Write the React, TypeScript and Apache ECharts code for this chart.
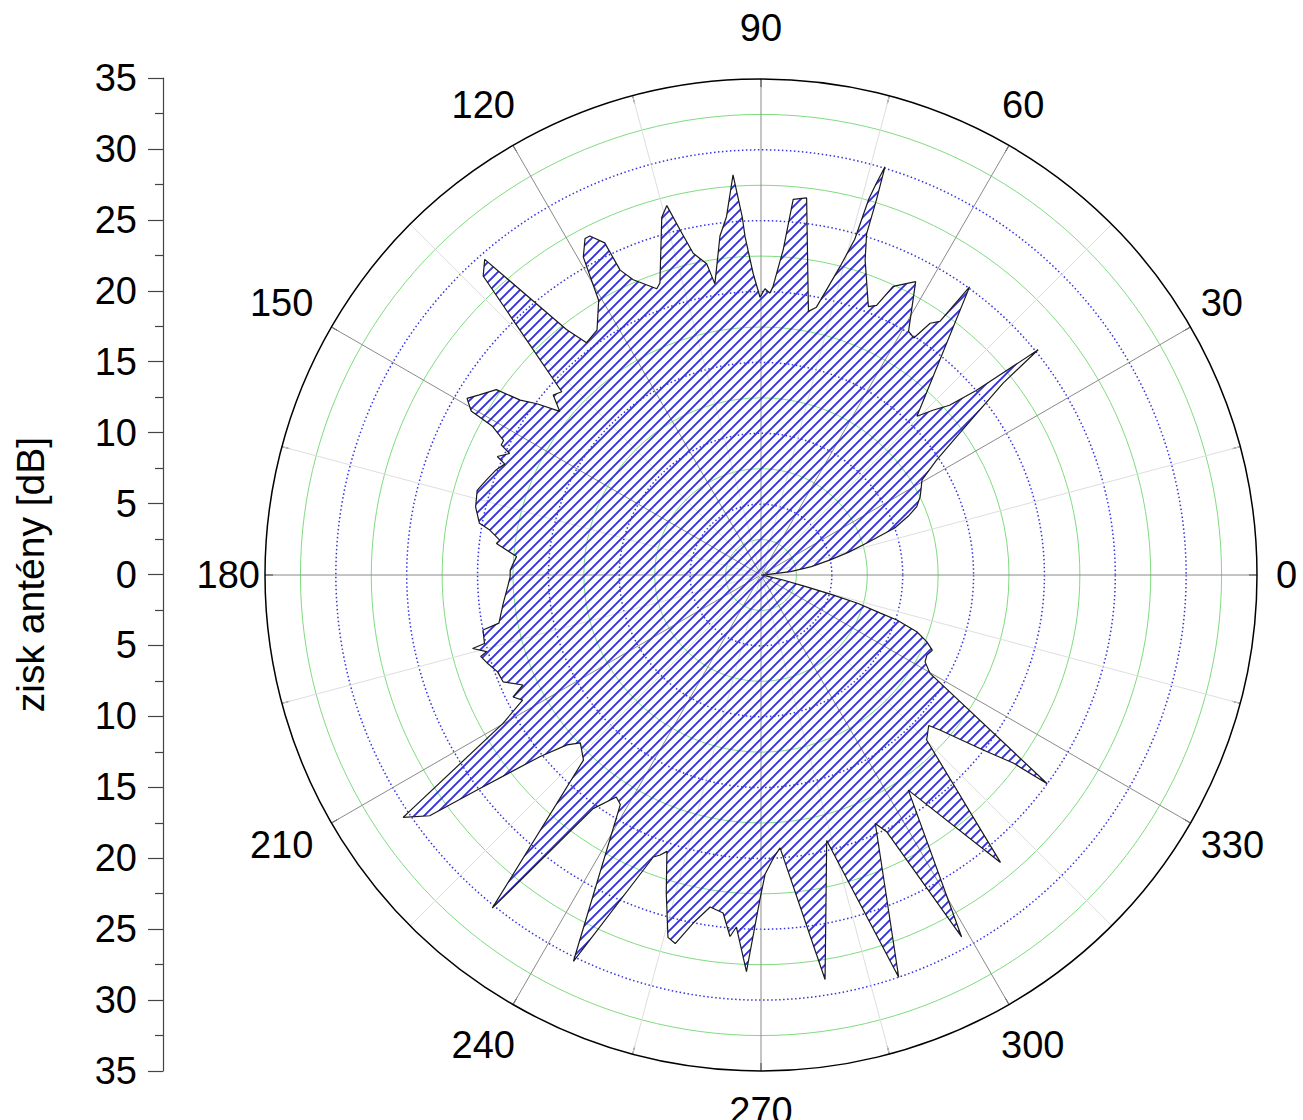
import React, { useEffect, useRef } from "react";
import * as echarts from "echarts";

// Measured antenna pattern: angle [deg] and gain [dB]
const angleDeg = [
  0, 4.0, 6.5, 9.5, 12.3, 14.6, 16.8, 19.4, 21.8, 23.7, 26.1, 28.1, 30.6, 33.2, 35.5, 38.4, 39.1,
  40.6, 42.0, 43.8, 45.5, 54.1, 54.8, 56.1, 57.2, 58.8, 62.2, 65.4, 66.8, 68.2, 71.7, 72.8, 72.9,
  73.1, 73.6, 74.0, 74.4, 75.6, 78.3, 79.8, 83.1, 85.1, 86.1, 87.6, 88.2, 89.2, 90.2, 91.5, 92.7,
  93.0, 94.0, 95.5, 96.9, 99.0, 99.9, 101.9, 103.2, 104.3, 105.5, 109.1, 110.0, 113.4, 114.8, 115.2,
  116.8, 117.6, 119.2, 120.6, 123.8, 126.9, 128.4, 131.2, 132.9, 137.4, 139.1, 140.9, 142.6, 144.0,
  145.0, 147.4, 149.0, 150.5, 151.0, 152.4, 153.4, 154.2, 155.8, 156.6, 158.3, 160.9, 163.4, 166.6,
  169.6, 170.6, 172.4, 173.2, 175.7, 177.3, 178.9, 180.4, 182.7, 186.3, 190.4, 191.2, 193.9, 194.3,
  195.6, 196.2, 197.8, 200.2, 202.5, 204.8, 206.2, 207.7, 209.9, 214.1, 216.0, 217.1, 219.4, 221.2,
  222.9, 226.2, 231.1, 234.3, 236.9, 238.5, 244.1, 249.1, 250.2, 251.2, 253.4, 255.6, 256.9, 259.0,
  261.3, 263.6, 265.1, 266.0, 267.9, 269.8, 270.8, 272.5, 274.0, 279.0, 283.9, 288.9, 294.7, 296.1,
  299.0, 304.4, 309.8, 315.1, 318.1, 319.1, 321.8, 323.3, 323.9, 329.8, 332.1, 334.2, 336.3, 338.1,
  340.0, 341.7, 342.3, 343.7, 344.5, 345.4, 347.2, 352.0, 360
];
const gainDb = [
  0, 0.4, 2.1, 3.6, 5.0, 6.4, 7.8, 10.0, 11.2, 12.0, 12.5, 12.8, 13.2, 14.8, 17.2, 21.8, 25.2,
  20.0, 17.9, 16.8, 15.7, 25.1, 21.9, 21.4, 19.9, 20.1, 23.4, 22.4, 20.7, 20.4, 23.4, 25.2, 27.7,
  30.1, 28.8, 27.6, 24.6, 22.5, 19.3, 18.9, 26.8, 26.6, 23.0, 20.4, 19.9, 20.2, 19.6, 21.3, 23.9,
  25.3, 28.3, 25.4, 24.1, 20.8, 22.3, 23.2, 25.0, 26.9, 26.2, 21.8, 21.5, 22.7, 23.7, 25.9,
  26.8, 26.8, 25.7, 22.5, 20.8, 20.5, 22.1, 29.6, 28.8, 19.1, 19.4, 18.3, 19.9, 21.0,
  22.8, 23.6, 24.2, 23.5, 21.7, 20.5, 20.5, 19.7, 20.4, 19.7, 20.1, 20.5, 20.9, 20.7,
  20.2, 19.4, 18.6, 18.8, 17.3, 17.5, 17.7, 17.7, 17.9, 18.3, 18.8, 20.0, 20.1, 21.0,
  20.1, 20.6, 20.3, 19.8, 19.7, 18.5, 19.5, 19.0, 21.0, 30.5, 28.9, 25.2, 20.2, 18.2,
  17.4, 18.1, 30.2, 20.3, 18.7, 19.0, 30.3, 21.3, 21.0, 20.6, 23.4, 26.4, 26.7, 25.0,
  23.7, 24.0, 25.6, 24.9, 28.0, 22.9, 21.1, 20.0, 19.3, 28.9, 19.3, 30.0, 19.3, 20.2,
  29.2, 18.4, 26.4, 16.5, 15.9, 16.7, 20.0, 22.2, 25.0, 13.8, 13.1, 13.0, 13.2, 12.6,
  11.7, 10.1, 8.8, 7.1, 5.3, 3.4, 1.6, 0.2, 0
];

const radiusMax = 35;
const radiusStep = 5;
const angleStep = 30;
const gainAxisTitle = "zisk antény [dB]";

const FONT = "'Liberation Sans', Arial, Helvetica, sans-serif";

// per-label padding [top, right, bottom, left] so each angle label sits centred on a ring
const angleLabelPadding: Record<number, number[]> = {
  0: [0, 0, 0, 35],
  30: [0, 0, 26, 24],
  60: [0, 0, 70, 1],
  90: [0, 0, 96, 0],
  120: [0, 6, 70, 0],
  150: [0, 32, 26, 0],
  180: [0, 21, 0, 0],
  210: [22, 32, 0, 0],
  240: [70, 6, 0, 0],
  270: [74, 0, 0, 0],
  300: [70, 0, 0, 0],
  330: [22, 0, 0, 24],
};

export default function App() {
  const ref = useRef<HTMLDivElement>(null);

  useEffect(() => {
    if (!ref.current) return;
    const chart = echarts.init(ref.current, null, { renderer: "svg" });

    // diagonal hatch tile
    const cv = document.createElement("canvas");
    cv.width = 10;
    cv.height = 10;
    const ctx = cv.getContext("2d")!;
    ctx.strokeStyle = "#3030dc";
    ctx.lineWidth = 1.9;
    ctx.lineCap = "square";
    ctx.beginPath();
    ctx.moveTo(-1, 11);
    ctx.lineTo(11, -1);
    ctx.moveTo(-1, 1);
    ctx.lineTo(1, -1);
    ctx.moveTo(9, 11);
    ctx.lineTo(11, 9);
    ctx.stroke();
    const hatch: any = {
      image: cv.toDataURL(),
      repeat: "repeat",
      imageWidth: 10,
      imageHeight: 10,
    };

    const data = angleDeg.map((a, i) => [gainDb[i], a]);

    const blue = "#3434e4";
    const splitColors = ["rgba(0,0,0,0)"];
    for (let v = radiusStep; v < radiusMax; v += radiusStep) splitColors.push(blue);
    splitColors.push("rgba(0,0,0,0)");

    const rich: Record<string, any> = {};
    Object.keys(angleLabelPadding).forEach((k) => {
      rich["a" + k] = {
        fontSize: 38,
        lineHeight: 38,
        color: "#000",
        fontFamily: FONT,
        padding: angleLabelPadding[Number(k)],
      };
    });

    chart.setOption({
      animation: false,
      backgroundColor: "#ffffff",
      polar: { center: [761, 575], radius: 496 },
      angleAxis: {
        type: "value",
        min: 0,
        max: 360,
        interval: angleStep,
        startAngle: 0,
        clockwise: false,
        axisLine: { show: true, lineStyle: { color: "#000", width: 1.5 } },
        axisTick: { show: true, inside: true, length: 8, lineStyle: { color: "#000", width: 1 } },
        minorTick: { show: true, splitNumber: 2, length: 8, lineStyle: { color: "#000", width: 1 } },
        axisLabel: {
          show: true,
          margin: -16,
          fontSize: 38,
          color: "#000",
          fontFamily: FONT,
          formatter: (v: number) => `{a${v}|${v}}`,
          rich,
        },
        splitLine: { show: true, lineStyle: { color: "#8a8a8a", width: 1 } },
        minorSplitLine: { show: true, lineStyle: { color: "#dedede", width: 1 } },
        z: 1,
      },
      radiusAxis: {
        type: "value",
        min: 0,
        max: radiusMax,
        interval: radiusStep,
        axisLine: { show: false },
        axisTick: { show: false },
        axisLabel: { show: false },
        minorTick: { show: false, splitNumber: 2 },
        splitLine: { show: true, lineStyle: { color: splitColors, width: 1.5, type: [1.5, 2.5] } },
        minorSplitLine: { show: true, lineStyle: { color: "#80dc80", width: 1 } },
        z: 1,
      },
      grid: { left: 163, top: 78, width: 1, height: 993, containLabel: false },
      xAxis: { type: "value", show: false, min: 0, max: 1 },
      yAxis: {
        type: "value",
        min: -radiusMax,
        max: radiusMax,
        interval: radiusStep,
        position: "left",
        axisLine: { show: true, lineStyle: { color: "#444", width: 1.2 } },
        axisTick: { show: true, length: 15, lineStyle: { color: "#444", width: 1.2 } },
        minorTick: { show: true, splitNumber: 2, length: 8, lineStyle: { color: "#444", width: 1.2 } },
        splitLine: { show: false },
        minorSplitLine: { show: false },
        axisLabel: {
          fontSize: 38,
          color: "#000",
          margin: 26,
          fontFamily: FONT,
          formatter: (v: number) => String(Math.abs(v)),
        },
        name: gainAxisTitle,
        nameLocation: "middle",
        nameRotate: 90,
        nameGap: 113,
        nameTextStyle: { fontSize: 39, color: "#000", fontFamily: FONT },
      },
      series: [
        {
          type: "line",
          coordinateSystem: "polar",
          data,
          showSymbol: false,
          symbol: "none",
          smooth: false,
          lineStyle: { color: "#1a1a1a", width: 1.2 },
          areaStyle: { color: hatch, opacity: 1 },
          z: 5,
        },
      ],
    });

    return () => chart.dispose();
  }, []);

  return (
    <div
      ref={ref}
      style={{ position: "fixed", left: 0, top: 0, width: 1303, height: 1120, background: "#fff" }}
    />
  );
}
